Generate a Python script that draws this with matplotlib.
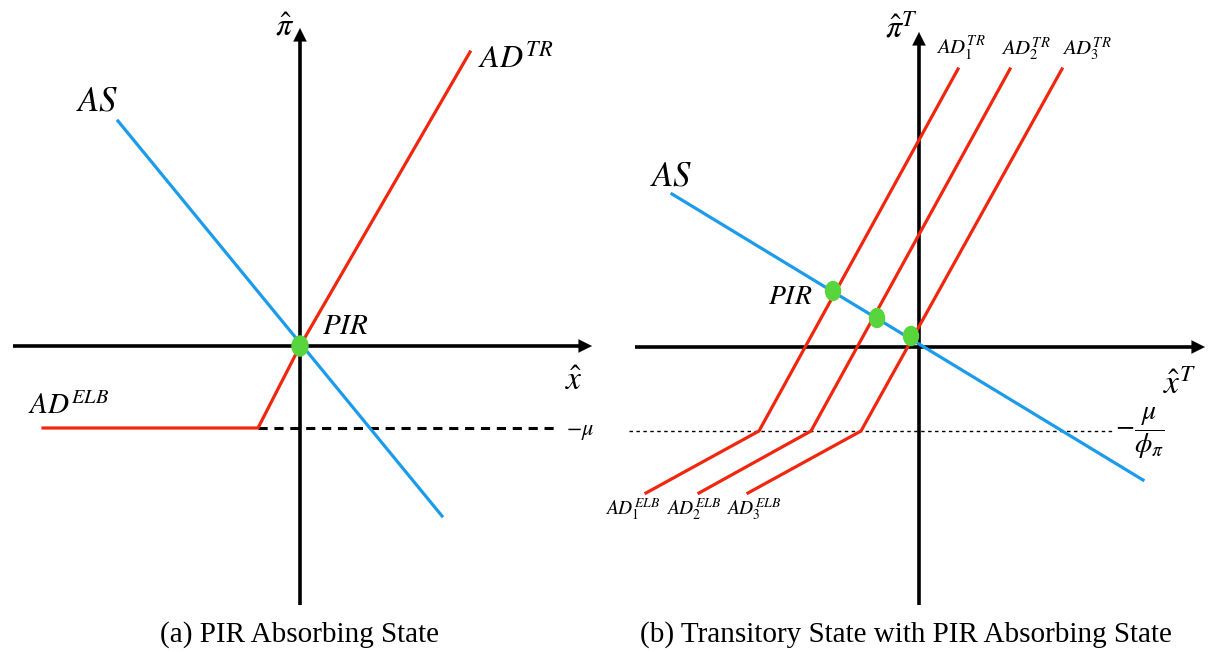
import matplotlib
matplotlib.use("Agg")
import matplotlib.pyplot as plt
from matplotlib.patches import Ellipse

plt.rcParams['mathtext.fontset'] = 'stix'
plt.rcParams['font.family'] = ['Liberation Serif', 'DejaVu Serif']

BLUE = '#1b9bea'
RED = '#f0260f'
GREEN = '#58d53c'

# ---------------- Panel (a) data ----------------
a_xaxis = ([-2.87, 2.92], [0, 0])
a_yaxis = ([0, 0], [-2.59, 3.18])
a_as_x = [-1.82, 1.42]
a_as_y = [2.25, -1.70]
a_ad_x = [1.70, 0.0, -0.42, -2.57]
a_ad_y = [2.94, 0.0, -0.82, -0.82]
a_dash_x = [-0.42, 2.55]
a_dash_y = [-0.82, -0.82]
a_pir = (0.0, 0.0)

# ---------------- Panel (b) data ----------------
b_xaxis = ([-2.84, 2.86], [0, 0])
b_yaxis = ([0, 0], [-2.58, 3.15])
b_as_x = [-2.47, 2.24]
b_as_y = [1.53, -1.33]
b_ad_x = [[0.39, -1.60, -2.73],
          [0.91, -1.08, -2.20],
          [1.43, -0.58, -1.71]]
b_ad_y = [[2.78, -0.84, -1.46],
          [2.78, -0.84, -1.46],
          [2.78, -0.84, -1.46]]
b_dash_x = [-2.90, 1.93]
b_dash_y = [-0.84, -0.84]
b_pts_x = [-0.86, -0.42, -0.08]
b_pts_y = [0.56, 0.29, 0.11]

fig = plt.figure(figsize=(12.12, 6.52), dpi=100)

axa = fig.add_axes([0, 0, 0.5, 1])
axa.set_xlim(-3.00, 3.06)
axa.set_ylim(-3.06, 3.46)
axb = fig.add_axes([0.5, 0, 0.5, 1])
axb.set_xlim(-3.13, 2.93)
axb.set_ylim(-3.05, 3.47)
for ax in (axa, axb):
    ax.set_axis_off()


def axes_arrows(ax, xa, ya):
    ax.plot([xa[0][0], xa[0][1] - 0.1], xa[1], color='k', lw=2.6, solid_capstyle='butt', zorder=2)
    ax.plot(ya[0], [ya[1][0], ya[1][1] - 0.1], color='k', lw=2.6, solid_capstyle='butt', zorder=2)
    ax.annotate('', xy=(xa[0][1], 0), xytext=(xa[0][1] - 0.3, 0),
                arrowprops=dict(arrowstyle='-|>', color='k', lw=0.1, mutation_scale=24,
                                shrinkA=0, shrinkB=0), zorder=3)
    ax.annotate('', xy=(0, ya[1][1]), xytext=(0, ya[1][1] - 0.3),
                arrowprops=dict(arrowstyle='-|>', color='k', lw=0.1, mutation_scale=24,
                                shrinkA=0, shrinkB=0), zorder=3)


# Panel (a)
axes_arrows(axa, a_xaxis, a_yaxis)
axa.plot(a_dash_x, a_dash_y, color='k', lw=2.2, ls=(0, (3, 2.2)), zorder=2)
axa.plot(a_as_x, a_as_y, color=BLUE, lw=2.3, zorder=4)
axa.plot(a_ad_x, a_ad_y, color=RED, lw=2.3, zorder=4)
axa.add_patch(Ellipse(a_pir, 0.16, 0.20, color=GREEN, zorder=5))

axa.text(-0.15, 3.18, r'$\hat{\pi}$', fontsize=23, ha='center', va='center')
axa.text(1.78, 2.87, r'$AD^{TR}$', fontsize=23, ha='left', va='center')
axa.text(-2.03, 2.44, r'$AS$', fontsize=25, ha='center', va='center')
axa.text(0.22, 0.19, r'$PIR$', fontsize=21, ha='left', va='center')
axa.text(2.74, -0.36, r'$\hat{x}$', fontsize=24, ha='center', va='center')
axa.text(-2.72, -0.60, r'$AD^{ELB}$', fontsize=21, ha='left', va='center')
axa.text(2.66, -0.86, r'$-\mu$', fontsize=16, ha='left', va='center')

# Panel (b)
axes_arrows(axb, b_xaxis, b_yaxis)
axb.plot(b_dash_x, b_dash_y, color='k', lw=1.0, ls=(0, (2.5, 2.5)), zorder=2)
axb.plot(b_as_x, b_as_y, color=BLUE, lw=2.3, zorder=4)
for xs, ys in zip(b_ad_x, b_ad_y):
    axb.plot(xs, ys, color=RED, lw=2.3, zorder=4)
for px, py in zip(b_pts_x, b_pts_y):
    axb.add_patch(Ellipse((px, py), 0.15, 0.19, color=GREEN, zorder=5))

axb.text(-0.18, 3.18, r'$\hat{\pi}^{T}$', fontsize=23, ha='center', va='center')
tr_x = [0.17, 0.82, 1.43]
for i, tx in enumerate(tr_x):
    axb.text(tx, 2.98, r'$AD_{%d}^{TR}$' % (i + 1), fontsize=15, ha='left', va='center')
axb.text(-2.69, 1.70, r'$AS$', fontsize=25, ha='left', va='center')
axb.text(-1.51, 0.49, r'$PIR$', fontsize=20, ha='left', va='center')
axb.text(2.61, -0.38, r'$\hat{x}^{T}$', fontsize=24, ha='center', va='center')
elb_x = [-3.14, -2.53, -1.93]
for i, tx in enumerate(elb_x):
    axb.text(tx, -1.62, r'$AD_{%d}^{ELB}$' % (i + 1), fontsize=14, ha='left', va='center')
axb.text(1.96, -0.86, r'$-\dfrac{\mu}{\phi_{\pi}}$', fontsize=20, ha='left', va='center')

fig.text(300 / 1212, 1 - 635 / 652, '(a) PIR Absorbing State', fontsize=21,
         ha='center', va='center')
fig.text(906 / 1212, 1 - 635 / 652, '(b) Transitory State with PIR Absorbing State',
         fontsize=21, ha='center', va='center')

fig.savefig('out.png', dpi=100)
